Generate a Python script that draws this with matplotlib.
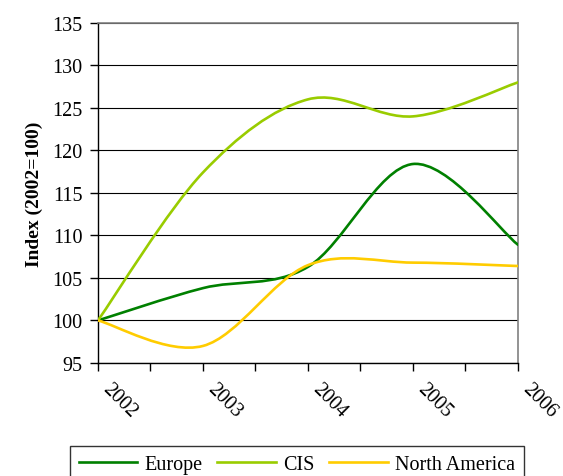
import numpy as np
import matplotlib
matplotlib.use("Agg")
import matplotlib.pyplot as plt
import matplotlib.transforms as mtransforms
from matplotlib.path import Path
from matplotlib.patches import PathPatch
from matplotlib.lines import Line2D

years = [2002, 2003, 2004, 2005, 2006]
europe = [100, 103.8, 106.3, 118.4, 108.9]
cis = [100, 117.4, 126.0, 124.0, 128.0]
north_america = [100, 97.0, 106.5, 106.8, 106.4]

series = [("Europe", europe, "#008000"),
          ("CIS", cis, "#99cc00"),
          ("North America", north_america, "#ffcc00")]

plt.rcParams['font.family'] = ['Liberation Serif', 'DejaVu Serif']


def smooth_path(xs, ys):
    # excel style smoothed line: catmull-rom turned into bezier segments
    pts = np.column_stack([xs, ys]).astype(float)
    ext = np.vstack([pts[0], pts, pts[-1]])
    verts = [pts[0]]
    codes = [Path.MOVETO]
    for i in range(len(pts) - 1):
        p0, p1, p2, p3 = ext[i], ext[i + 1], ext[i + 2], ext[i + 3]
        c1 = p1 + (p2 - p0) / 6.0
        c2 = p2 - (p3 - p1) / 6.0
        verts += [c1, c2, p2]
        codes += [Path.CURVE4] * 3
    return Path(verts, codes)


fig = plt.figure(figsize=(5.63, 4.77), dpi=100)
ax = fig.add_axes([0.174, 0.237, 0.746, 0.713])

for name, vals, col in series:
    patch = PathPatch(smooth_path(years, vals), fill=False, edgecolor=col,
                      lw=1.9, capstyle='round', joinstyle='round', zorder=3)
    ax.add_patch(patch)

ax.set_xlim(2002, 2006)
ax.set_ylim(95, 135)
ax.set_yticks(range(95, 136, 5))
ax.set_xticks(years)
ax.set_xticks(np.arange(2002.5, 2006, 1), minor=True)
ax.yaxis.grid(True, color='black', lw=0.8)
ax.set_axisbelow(True)

for s in ['top', 'right']:
    ax.spines[s].set_color('#808080')
    ax.spines[s].set_linewidth(1.2)
for s in ['left', 'bottom']:
    ax.spines[s].set_color('black')
    ax.spines[s].set_linewidth(1.0)

ax.tick_params(axis='y', direction='out', length=6, width=1, labelsize=14.5, pad=5)
ax.tick_params(axis='x', which='both', direction='out', length=6, width=1)
ax.tick_params(axis='x', labelsize=14.5, pad=0)
offset = mtransforms.ScaledTranslation(0.07, -0.15, fig.dpi_scale_trans)
for lbl in ax.get_xticklabels():
    lbl.set_rotation(-45)
    lbl.set_ha('left')
    lbl.set_va('center')
    lbl.set_rotation_mode('anchor')
    lbl.set_transform(lbl.get_transform() + offset)

ax.set_ylabel("Index (2002=100)", fontsize=14, fontweight='bold', labelpad=7)

handles = [Line2D([], [], color=c, lw=1.9) for _, _, c in series]
leg = fig.legend(handles, [n for n, _, _ in series], loc='upper center',
                 bbox_to_anchor=(0.527, 0.063), ncol=3, fontsize=14.5,
                 frameon=True, fancybox=False, edgecolor='black',
                 handlelength=2.9, columnspacing=0.75, handletextpad=0.35,
                 borderpad=0.45, borderaxespad=0)
leg.get_frame().set_linewidth(1.0)

fig.savefig("out.png", dpi=100)
